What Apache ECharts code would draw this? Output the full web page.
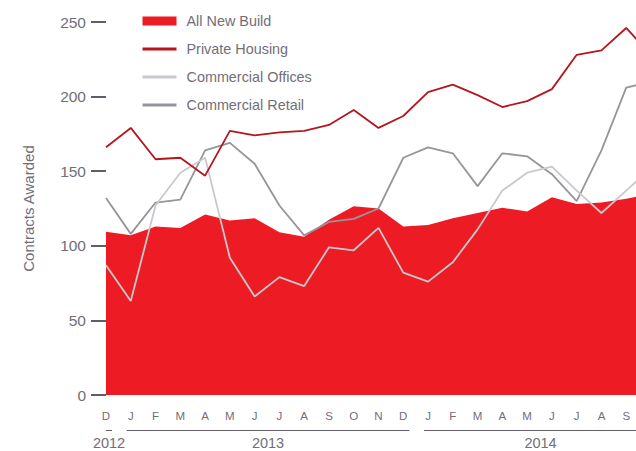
<!DOCTYPE html>
<html>
<head>
<meta charset="utf-8">
<script src="https://cdn.jsdelivr.net/npm/echarts@6/dist/echarts.min.js"></script>
<style>
  html, body { margin: 0; padding: 0; background: #fff; }
  #main { width: 636px; height: 451px; }
</style>
</head>
<body>
<div id="main"></div>
<script>
// months Dec 2012 .. Oct 2014 (the last one is cut off by the frame)
var months = ['2012-12', '2013-01', '2013-02', '2013-03', '2013-04', '2013-05', '2013-06',
    '2013-07', '2013-08', '2013-09', '2013-10', '2013-11', '2013-12', '2014-01', '2014-02',
    '2014-03', '2014-04', '2014-05', '2014-06', '2014-07', '2014-08', '2014-09', '2014-10']
var monthLetters = ['D', 'J', 'F', 'M', 'A', 'M', 'J', 'J', 'A', 'S', 'O', 'N', 'D',
    'J', 'F', 'M', 'A', 'M', 'J', 'J', 'A', 'S', 'O']
var years = ['2012', '2013', '2014']
var yTicks = [0, 50, 100, 150, 200, 250]

var allNewBuild = [109.5, 107, 113, 112, 121, 117, 118.5, 109, 106, 117.5, 126.5, 125,
    113, 114, 118.5, 122, 125.5, 123, 132.5, 128, 129, 131.5, 135]
var privateHousing = [166, 179, 158, 159, 147, 177, 174, 176, 177, 181, 191, 179,
    187, 203, 208, 201, 193, 197, 205, 228, 231, 246, 228]
var commercialOffices = [87, 63, 127, 149, 159, 92, 66, 79, 73, 99, 97, 112,
    82, 76, 89, 111, 137, 149, 153, 137, 122, 137, 152]
var commercialRetail = [132, 108, 129, 131, 164, 169, 155, 127, 107, 116, 118, 125,
    159, 166, 162, 140, 162, 160, 148, 130, 164, 206, 210]

var textGrey = '#726e77'
var tickGrey = '#625e67'
var font = 'Liberation Sans, Arial, sans-serif'

var myChart = echarts.init(document.querySelector('#main'), null, {renderer: 'svg'})

option = {
    animation: false,
    grid: {
        left: 106,
        right: -15,
        top: 22,
        bottom: 56,
        outerBoundsMode: 'none'
    },
    legend: {
        orient: 'vertical',
        left: 141,
        top: 14,
        padding: 0,
        itemWidth: 34,
        itemHeight: 9,
        itemGap: 14,
        textStyle: {
            color: textGrey,
            fontSize: 14.4,
            fontFamily: font,
            padding: [0, 0, 0, 5]
        },
        data: [
            {name: 'All New Build', icon: 'rect', itemStyle: {color: '#ed1c24'}},
            {name: 'Private Housing', lineStyle: {width: 3, color: '#b5161d'},
                itemStyle: {color: 'rgba(0,0,0,0)', borderWidth: 0}},
            {name: 'Commercial Offices', lineStyle: {width: 3, color: '#c9c8cd'},
                itemStyle: {color: 'rgba(0,0,0,0)', borderWidth: 0}},
            {name: 'Commercial Retail', lineStyle: {width: 3, color: '#97949c'},
                itemStyle: {color: 'rgba(0,0,0,0)', borderWidth: 0}}
        ]
    },
    xAxis: {
        type: 'category',
        boundaryGap: false,
        data: months,
        axisLine: {show: false},
        axisTick: {show: false},
        axisLabel: {
            // the last month sits outside the frame, so no label for it
            interval: function(index) {
                return index < months.length - 1
            },
            margin: 15,
            color: textGrey,
            fontSize: 11.5,
            fontFamily: font,
            formatter: function(value, index) {
                return monthLetters[index]
            }
        }
    },
    yAxis: {
        type: 'value',
        min: yTicks[0],
        max: yTicks[yTicks.length - 1],
        interval: 50,
        name: 'Contracts Awarded',
        nameLocation: 'middle',
        nameGap: 70,
        nameTextStyle: {
            color: textGrey,
            fontSize: 15,
            fontFamily: font
        },
        splitLine: {show: false},
        axisLine: {show: false},
        axisTick: {
            show: true,
            length: 15,
            lineStyle: {color: tickGrey, width: 2}
        },
        axisLabel: {
            margin: 20,
            color: textGrey,
            fontSize: 15.5,
            fontFamily: font
        }
    },
    series: [
        {
            name: 'All New Build',
            type: 'line',
            data: allNewBuild,
            symbol: 'none',
            color: '#ed1c24',
            lineStyle: {width: 0},
            areaStyle: {color: '#ed1c24', opacity: 1},
            z: 1
        },
        {
            name: 'Commercial Retail',
            type: 'line',
            data: commercialRetail,
            symbol: 'none',
            color: '#97949c',
            lineStyle: {width: 1.8, color: '#97949c'},
            z: 2
        },
        {
            name: 'Commercial Offices',
            type: 'line',
            data: commercialOffices,
            symbol: 'none',
            color: '#c9c8cd',
            lineStyle: {width: 1.8, color: '#c9c8cd'},
            z: 3
        },
        {
            name: 'Private Housing',
            type: 'line',
            data: privateHousing,
            symbol: 'none',
            color: '#b5161d',
            lineStyle: {width: 1.8, color: '#b5161d'},
            z: 4
        }
    ]
}

myChart.setOption(option)

// year grouping lines and labels under the month letters
var groups = [[0, 0], [1, 12], [13, 22]]
var graphics = []
var plotLeft = 106
groups.forEach(function(g, i) {
    var x0 = myChart.convertToPixel({xAxisIndex: 0}, g[0]) - 4
    var x1 = myChart.convertToPixel({xAxisIndex: 0}, g[1]) + 6
    x0 = Math.max(x0, plotLeft)
    graphics.push({
        type: 'line',
        shape: {x1: x0, y1: 430.5, x2: x1, y2: 430.5},
        style: {stroke: tickGrey, lineWidth: 1}
    })
    graphics.push({
        type: 'text',
        x: (x0 + x1) / 2,
        y: 443,
        style: {
            text: years[i],
            fill: textGrey,
            fontSize: 14.5,
            fontFamily: font,
            align: 'center',
            verticalAlign: 'middle'
        }
    })
})
myChart.setOption({graphic: graphics})
</script>
</body>
</html>
